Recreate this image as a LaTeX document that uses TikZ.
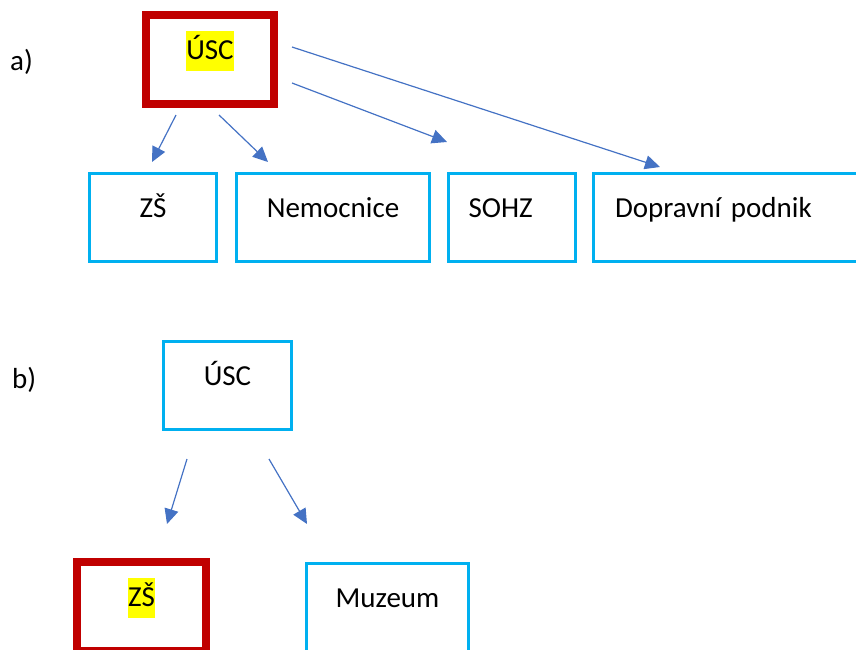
\documentclass[tikz,border=0pt]{standalone}
\usepackage{fontspec}
\setmainfont{Carlito}
\usepackage{xcolor}
\usepackage{tikz}
\usetikzlibrary{arrows.meta,positioning}
\definecolor{darkred}{HTML}{C00000}
\definecolor{lightblue}{HTML}{00B0F0}
\definecolor{arrowblue}{HTML}{4472C4}
\definecolor{hlyellow}{HTML}{FFFF00}
\newcommand{\hlt}[1]{{\setlength{\fboxsep}{0pt}\colorbox{hlyellow}{\rule[-11pt]{0pt}{40pt}#1}}}

\begin{document}
\begin{tikzpicture}[x=1pt,y=-1pt,
  box/.style={draw=lightblue,line width=3.3pt,rectangle,inner sep=0pt,minimum height=88pt,
    text height=10pt,text depth=10pt,font=\fontsize{29}{35}\selectfont},
  focus/.style={box,draw=darkred,line width=8pt,minimum height=89pt},
  leftbox/.style={box,inner xsep=20pt,align=left},
  arr/.style={-{Triangle[length=15pt,width=14pt]},draw=arrowblue,line width=1.2pt},
  tag/.style={anchor=base west,inner sep=0pt,font=\fontsize{29}{35}\selectfont}]
\clip (0,0) rectangle (856,649);

% a) one unit founds several organisations
\node[tag] (taga) at (10,70) {a)};
\node[focus,minimum width=128pt] (usca) at (210,59.5) {\hlt{ÚSC}};
\node[box,minimum width=127pt] (zsa) at (153,217.5) {ZŠ};
\node[box,minimum width=193pt] (nemocnice) at (333,217.5) {Nemocnice};
\node[leftbox,text width=87pt] (sohz) at (512,217.5) {SOHZ};
\node[leftbox,inner xsep=21.5pt,text width=237pt] (podnik) at (733.5,217.5) {Dopravní podnik};
\coordinate (a1s) at (176,115); \coordinate (a1e) at (152,162);
\coordinate (a2s) at (219,115); \coordinate (a2e) at (268,162);
\coordinate (a3s) at (292,83);  \coordinate (a3e) at (447,142);
\coordinate (a4s) at (292,47);  \coordinate (a4e) at (660,167);
\draw[arr] (a1s) -- (a1e);
\draw[arr] (a2s) -- (a2e);
\draw[arr] (a3s) -- (a3e);
\draw[arr] (a4s) -- (a4e);

% b) the school as one of the units
\node[tag] (tagb) at (12,388) {b)};
\node[box,minimum width=128pt] (uscb) at (227.5,385.5) {ÚSC};
\node[focus,minimum width=129pt] (zsb) at (141.5,606.5) {\hlt{ZŠ}};
\node[box,minimum width=162pt] (muzeum) at (387.5,607.5) {Muzeum};
\coordinate (b1s) at (187,459); \coordinate (b1e) at (167,524);
\coordinate (b2s) at (269,459); \coordinate (b2e) at (307,524);
\draw[arr] (b1s) -- (b1e);
\draw[arr] (b2s) -- (b2e);
\end{tikzpicture}
\end{document}
